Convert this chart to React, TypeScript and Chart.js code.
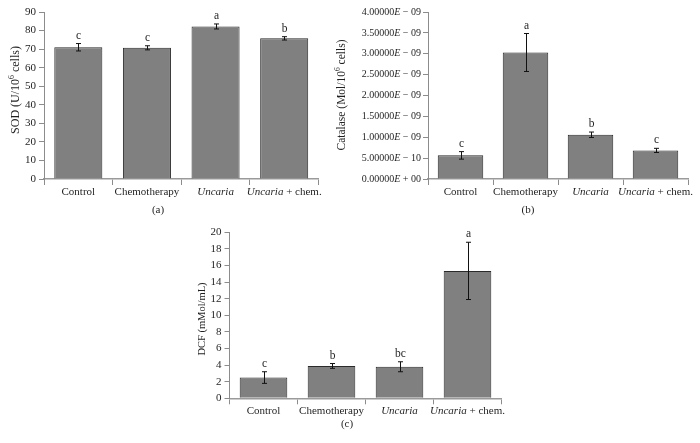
import React, { useEffect, useRef } from 'react';
import { Chart, registerables } from 'chart.js';

Chart.register(...registerables);

const FONT = '"Liberation Serif", "Times New Roman", serif';
const TEXT = '#1f1f1f';
const BAR_FILL = '#808080';
const BAR_EDGE = '#2a2a2a';
const AXIS = '#8c8c8c';

const categories = ['Control', 'Chemotherapy', 'Uncaria', 'Uncaria + chem.'];
const italicWord = 'Uncaria';

const sodValues = [71.0, 70.7, 82.2, 75.8];
const sodErrors = [2.0, 1.1, 1.35, 0.9];
const sodLetters = ['c', 'c', 'a', 'b'];
const sodRange = [0, 90, 10];

const catalaseValues = [5.66e-10, 3.03e-9, 1.06e-9, 6.85e-10];
const catalaseErrors = [0.9e-10, 4.55e-10, 0.65e-10, 0.5e-10];
const catalaseLetters = ['c', 'a', 'b', 'c'];
const catalaseRange = [0, 4e-9, 5e-10];

const dcfValues = [2.5, 3.9, 3.8, 15.35];
const dcfErrors = [0.7, 0.29, 0.6, 3.45];
const dcfLetters = ['c', 'b', 'bc', 'a'];
const dcfRange = [0, 20, 2];

type Run = { t: string; it?: boolean; sup?: boolean };

type PanelCfg = {
  values: number[];
  errors: number[];
  letters: string[];
  range: number[];
  yTitle: Run[];
  yTitleSize: number;
  caption: string;
  sci?: boolean;
  box: { left: number; top: number; width: number; height: number };
  area: { left: number; right: number; top: number; bottom: number };
  titleX: number;
  titleY: number;
  captionX: number;
  captionDy: number;
};

function drawRuns(
  ctx: CanvasRenderingContext2D,
  runs: Run[],
  x: number,
  y: number,
  size: number,
  align: 'center' | 'right' | 'left',
  rotate = false
) {
  ctx.save();
  ctx.translate(x, y);
  if (rotate) ctx.rotate(-Math.PI / 2);
  const fontFor = (r: Run) => `${r.it ? 'italic ' : ''}${r.sup ? size * 0.65 : size}px ${FONT}`;
  let total = 0;
  const widths = runs.map((r) => {
    ctx.font = fontFor(r);
    const w = ctx.measureText(r.t).width;
    total += w;
    return w;
  });
  let cx = align === 'center' ? -total / 2 : align === 'right' ? -total : 0;
  ctx.fillStyle = TEXT;
  ctx.textBaseline = 'middle';
  ctx.textAlign = 'left';
  runs.forEach((r, i) => {
    ctx.font = fontFor(r);
    ctx.fillText(r.t, cx, r.sup ? -size * 0.33 : 0);
    cx += widths[i];
  });
  ctx.restore();
}

function splitLabel(label: string): Run[] {
  if (label.startsWith(italicWord)) {
    const rest = label.slice(italicWord.length);
    return rest ? [{ t: italicWord, it: true }, { t: rest }] : [{ t: italicWord, it: true }];
  }
  return [{ t: label }];
}

function sciRuns(v: number): Run[] {
  const [m, e] = v.toExponential(5).split('e');
  const exp = parseInt(e, 10);
  const sign = exp < 0 ? '\u2212' : '+';
  const ee = String(Math.abs(exp)).padStart(2, '0');
  return [{ t: m }, { t: 'E', it: true }, { t: ` ${sign} ${ee}` }];
}

function makePlugin(p: PanelCfg) {
  return {
    id: 'decor',
    afterDatasetsDraw(chart: any) {
      const ctx: CanvasRenderingContext2D = chart.ctx;
      const meta = chart.getDatasetMeta(0);
      const ys = chart.scales.y;
      ctx.save();
      ctx.strokeStyle = '#111';
      ctx.lineWidth = 1;
      p.values.forEach((v, i) => {
        const x = Math.round(meta.data[i].x) + 0.5;
        const yt = ys.getPixelForValue(v + p.errors[i]);
        const yb = ys.getPixelForValue(v - p.errors[i]);
        ctx.beginPath();
        ctx.moveTo(x, yt);
        ctx.lineTo(x, yb);
        ctx.moveTo(x - 2.5, yt);
        ctx.lineTo(x + 2.5, yt);
        ctx.moveTo(x - 2.5, yb);
        ctx.lineTo(x + 2.5, yb);
        ctx.stroke();
        drawRuns(ctx, [{ t: p.letters[i] }], x, yt - 8, 11.5, 'center');
      });
      ctx.restore();
    },
    afterDraw(chart: any) {
      const ctx: CanvasRenderingContext2D = chart.ctx;
      const meta = chart.getDatasetMeta(0);
      const ca = chart.chartArea;
      categories.forEach((c, i) => {
        drawRuns(ctx, splitLabel(c), meta.data[i].x, ca.bottom + 13, 11, 'center');
      });
      if (p.sci) {
        const ys = chart.scales.y;
        ys.ticks.forEach((t: any) => {
          drawRuns(ctx, sciRuns(t.value), ca.left - 7, ys.getPixelForValue(t.value), 10, 'right');
        });
      }
      drawRuns(ctx, p.yTitle, p.titleX, p.titleY, p.yTitleSize, 'center', true);
      drawRuns(ctx, [{ t: p.caption }], p.captionX, ca.bottom + p.captionDy, 11, 'center');
    },
  };
}

const panels: PanelCfg[] = [
  {
    values: sodValues,
    errors: sodErrors,
    letters: sodLetters,
    range: sodRange,
    yTitle: [{ t: 'SOD (U/10' }, { t: '6', sup: true }, { t: ' cells)' }],
    yTitleSize: 12,
    caption: '(a)',
    box: { left: 0, top: 0, width: 350, height: 220 },
    area: { left: 44, right: 318.5, top: 12, bottom: 179 },
    titleX: 16,
    titleY: 90,
    captionX: 158,
    captionDy: 31,
  },
  {
    values: catalaseValues,
    errors: catalaseErrors,
    letters: catalaseLetters,
    range: catalaseRange,
    yTitle: [{ t: 'Catalase (Mol/10' }, { t: '6', sup: true }, { t: ' cells)' }],
    yTitleSize: 11.5,
    caption: '(b)',
    sci: true,
    box: { left: 330, top: 0, width: 370, height: 220 },
    area: { left: 98, right: 358, top: 12, bottom: 179 },
    titleX: 12,
    titleY: 95,
    captionX: 198,
    captionDy: 31,
  },
  {
    values: dcfValues,
    errors: dcfErrors,
    letters: dcfLetters,
    range: dcfRange,
    yTitle: [{ t: 'DCF (mMol/mL)' }],
    yTitleSize: 10.5,
    caption: '(c)',
    box: { left: 180, top: 220, width: 350, height: 223 },
    area: { left: 49.5, right: 321.5, top: 12.3, bottom: 178.3 },
    titleX: 22,
    titleY: 99,
    captionX: 167,
    captionDy: 26,
  },
];

function Panel({ p }: { p: PanelCfg }) {
  const ref = useRef<HTMLCanvasElement | null>(null);
  useEffect(() => {
    if (!ref.current) return;
    const { width, height } = p.box;
    const chart = new Chart(ref.current, {
      type: 'bar',
      data: {
        labels: categories,
        datasets: [
          {
            data: p.values,
            backgroundColor: BAR_FILL,
            borderColor: BAR_EDGE,
            borderWidth: 1,
            barPercentage: 0.7,
            categoryPercentage: 1,
          },
        ],
      },
      options: {
        responsive: false,
        animation: false,
        devicePixelRatio: 1,
        layout: {
          padding: { left: 0, top: p.area.top, right: width - p.area.right, bottom: 0 },
        },
        plugins: { legend: { display: false }, tooltip: { enabled: false } },
        scales: {
          x: {
            grid: { offset: true, drawOnChartArea: false, tickLength: 6, color: AXIS },
            border: { color: '#9a9a9a', width: 1.5 },
            ticks: { display: false },
            afterFit: (s: any) => {
              s.height = height - p.area.bottom;
            },
          },
          y: {
            min: p.range[0],
            max: p.range[1],
            grid: { drawOnChartArea: false, tickLength: 5, color: AXIS },
            border: { color: AXIS, width: 1 },
            ticks: {
              display: !p.sci,
              stepSize: p.range[2],
              padding: 3,
              color: TEXT,
              font: { family: FONT, size: 11 },
            },
            afterFit: (s: any) => {
              s.width = p.area.left;
            },
          },
        },
      },
      plugins: [makePlugin(p)],
    } as any);
    return () => chart.destroy();
  }, [p]);
  return (
    <canvas
      ref={ref}
      width={p.box.width}
      height={p.box.height}
      style={{
        position: 'absolute',
        left: p.box.left,
        top: p.box.top,
        width: p.box.width,
        height: p.box.height,
      }}
    />
  );
}

export default function App() {
  return (
    <div
      style={{
        position: 'absolute',
        left: 0,
        top: 0,
        width: 700,
        height: 443,
        background: '#ffffff',
        overflow: 'hidden',
      }}
    >
      {panels.map((p, i) => (
        <Panel key={i} p={p} />
      ))}
    </div>
  );
}
